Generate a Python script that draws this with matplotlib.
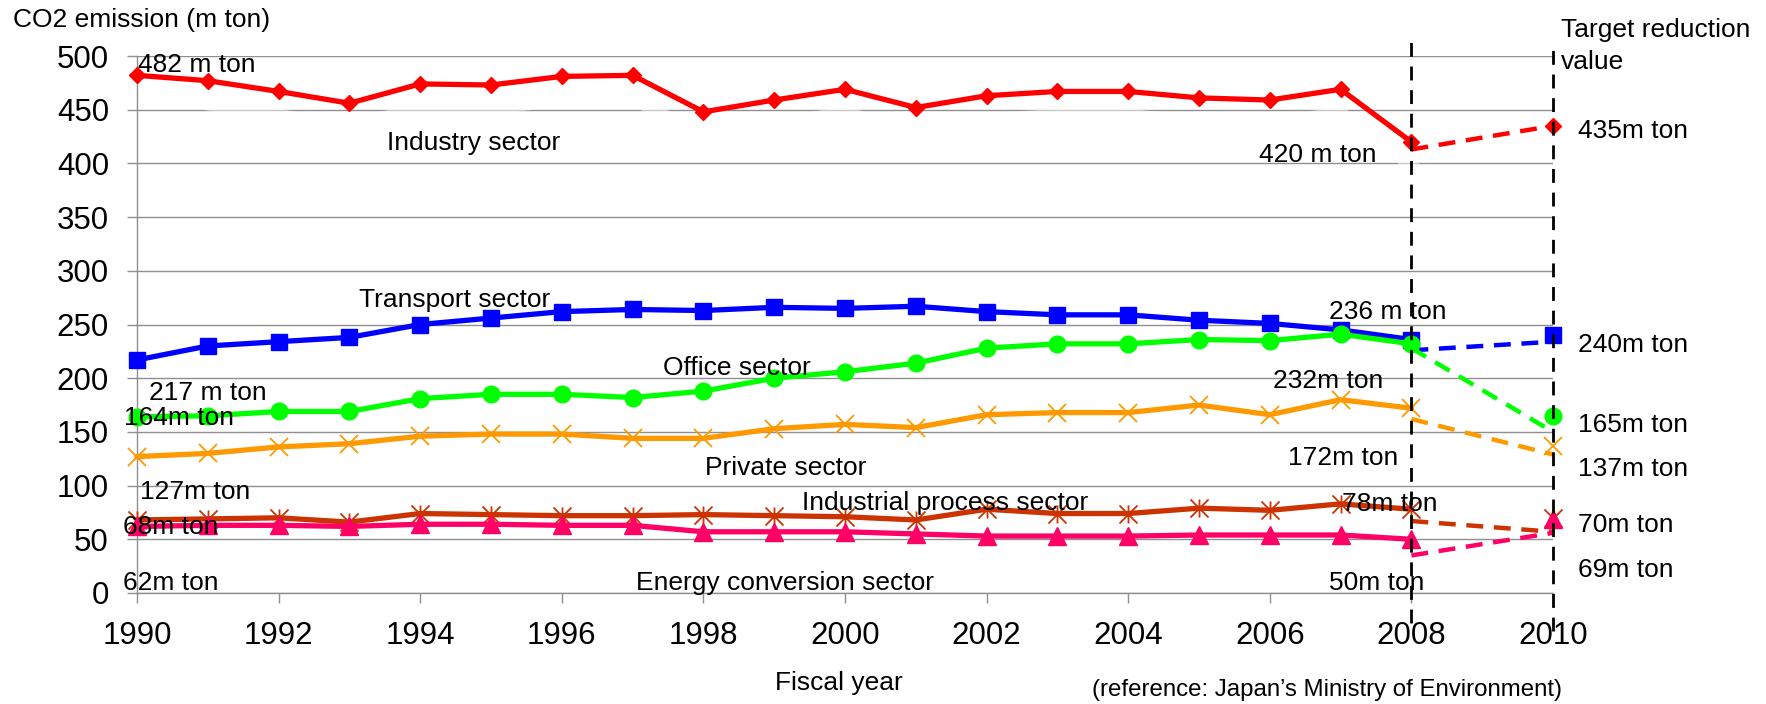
import matplotlib
matplotlib.use("Agg")
import matplotlib.pyplot as plt
from matplotlib.path import Path

plt.rcParams['font.family'] = ['Liberation Sans', 'DejaVu Sans']

# ---- data (million tons of CO2) ----
years = list(range(1990, 2009))
target_year = 2010
industry = [482, 477, 467, 456, 474, 473, 481, 482, 448, 459, 469, 452, 463, 467, 467, 461, 459, 469, 420]
transport = [217, 230, 234, 238, 250, 256, 262, 264, 263, 266, 265, 267, 262, 259, 259, 254, 251, 245, 236]
office = [164, 165, 169, 169, 181, 185, 185, 182, 188, 200, 206, 214, 228, 232, 232, 236, 235, 241, 232]
private = [127, 130, 136, 139, 146, 148, 148, 144, 144, 153, 157, 154, 166, 168, 168, 175, 166, 180, 172]
industrial_process = [68, 69, 70, 66, 74, 73, 72, 72, 73, 72, 71, 68, 78, 74, 74, 79, 77, 83, 78]
energy_conversion = [62, 63, 63, 62, 64, 64, 63, 63, 57, 57, 57, 55, 53, 53, 53, 54, 54, 54, 50]

# 2010 target reduction values
targets = [435, 240, 165, 137, 70, 69]
# dashed projection segments 2008 -> 2010
proj_start = [413, 226, 228, 162, 67, 35]
proj_end = [435, 234, 150, 129, 57, 56]

y_ticks = list(range(0, 501, 50))
x_ticks = list(range(1990, 2011, 2))

W, H = 1766, 704
fig = plt.figure(figsize=(W / 100, H / 100), dpi=100)
L, R, T, B = 137, 1553, 56, 593
ax = fig.add_axes([L / W, 1 - B / H, (R - L) / W, (B - T) / H])

ax.set_xlim(1990, 2010)
ax.set_ylim(0, 500)
ax.set_yticks(y_ticks)
ax.set_xticks(x_ticks)
ax.tick_params(axis='both', labelsize=22.5, length=7.2, width=1.0, color='#8f8f8f',
               pad=13, direction='out')
for side in ('top', 'right'):
    ax.spines[side].set_visible(False)
for side in ('left', 'bottom'):
    ax.spines[side].set_color('#8f8f8f')
    ax.spines[side].set_linewidth(1.0)
ax.yaxis.grid(True, color='#8f8f8f', linewidth=1.0)
ax.set_axisbelow(True)

# soft white shadow beneath the industry line
ax.plot(years[1:], [v - 22 for v in industry[1:]], color='white', lw=9, alpha=0.5,
        solid_joinstyle='round', zorder=1)

asterisk = Path([(-1, -1), (1, 1), (-1, 1), (1, -1), (0, -1), (0, 1)],
                [Path.MOVETO, Path.LINETO, Path.MOVETO, Path.LINETO, Path.MOVETO, Path.LINETO])

series = [
    (industry, '#ff0000', dict(marker='D', ms=8.5, mew=1)),
    (transport, '#0000ff', dict(marker='s', ms=11.5, mew=1)),
    (office, '#00ff00', dict(marker='o', ms=12, mew=1)),
    (private, '#ff9900', dict(marker='x', ms=13, mew=1.3)),
    (industrial_process, '#cc3300', dict(marker=asterisk, ms=13, mew=1.3)),
    (energy_conversion, '#ff0066', dict(marker='^', ms=12.5, mew=1)),
]

for i, (vals, col, mk) in enumerate(series):
    ax.plot(years, vals, color=col, lw=3.8, mfc=col, mec=col, zorder=3 + i * 0.1,
            clip_on=False, **mk)
    ax.plot([2008, target_year], [proj_start[i], proj_end[i]], color=col, lw=3.2,
            dashes=(3.8, 2.4), zorder=3 + i * 0.1, clip_on=False)
    ax.plot([target_year], [targets[i]], color=col, mfc=col, mec=col, ls='none',
            zorder=3 + i * 0.1, clip_on=False, **mk)

# vertical guides at 2008 and 2010
ax.axvline(2008, ymin=-0.056, ymax=1.0335, color='black', lw=2, dashes=(5, 3.5),
           clip_on=False, zorder=6)
ax.axvline(2010, ymin=-0.07, ymax=1.013, color='black', lw=2, dashes=(5, 3.5),
           clip_on=False, zorder=6)


def label(x, y, s, size=19, ha='left', va='center'):
    fig.text(x / W, 1 - y / H, s, fontsize=size, ha=ha, va=va, color='black', zorder=10)


label(13, 20, 'CO2 emission (m ton)')
label(138, 65, '482 m ton')
label(387, 143, 'Industry sector')
label(359, 300, 'Transport sector')
label(149, 393, '217 m ton')
label(124, 418, '164m ton')
label(140, 492, '127m ton')
label(123, 527, '68m ton')
label(123, 583, '62m ton')
label(663, 368, 'Office sector')
label(705, 468, 'Private sector')
label(802, 503, 'Industrial process sector')
label(636, 583, 'Energy conversion sector')
label(1561, 30, 'Target reduction')
label(1561, 62, 'value')
label(1578, 131, '435m ton')
label(1259, 155, '420 m ton')
label(1329, 312, '236 m ton')
label(1578, 345, '240m ton')
label(1273, 381, '232m ton')
label(1578, 425, '165m ton')
label(1288, 458, '172m ton')
label(1578, 469, '137m ton')
label(1342, 504, '78m ton')
label(1578, 525, '70m ton')
label(1578, 570, '69m ton')
label(1329, 583, '50m ton')
label(839, 683, 'Fiscal year', ha='center')
label(1562, 690, '(reference: Japan\u2019s Ministry of Environment)', size=17.3, ha='right')

fig.savefig('out.png', dpi=100)
